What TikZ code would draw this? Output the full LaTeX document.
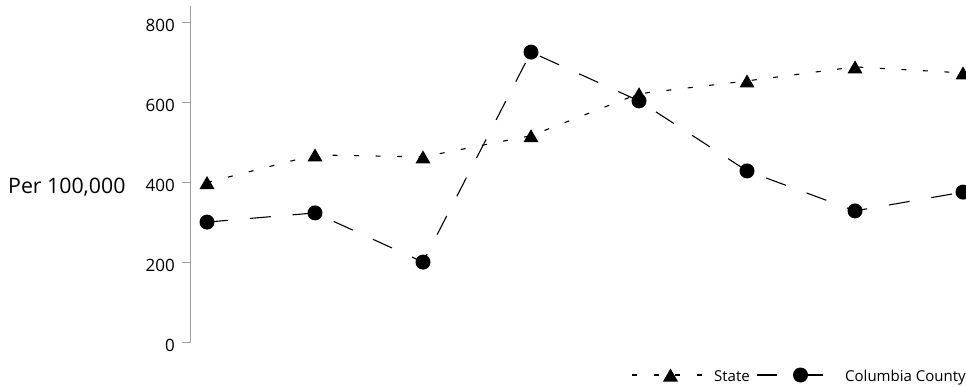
\documentclass[tikz,border=0pt]{standalone}
\usepackage{fontspec}
\setmainfont{Open Sans}
\definecolor{axisgray}{HTML}{A0A0A0}
\tikzset{
  ticklab/.style={anchor=base east, inner sep=0pt, font=\fontsize{17pt}{19pt}\selectfont},
  legtext/.style={anchor=base west, inner sep=0pt, font=\fontsize{15pt}{17pt}\selectfont},
  stateline/.style={line width=1.1pt, dash pattern=on 5pt off 16.5pt},
  countyline/.style={line width=1.1pt, dash pattern=on 21pt off 22pt},
  dot/.style={circle, fill=black, inner sep=0pt, minimum size=15pt},
  tri/.pic={\fill (-7.5pt,-6.5pt) -- (7.5pt,-6.5pt) -- (0pt,6.5pt) -- cycle;}
}
\begin{document}
\begin{tikzpicture}[x=1pt,y=1pt]
\useasboundingbox (0,0) rectangle (966,386);
\clip (0,0) rectangle (966,386);
\begin{scope}[shift={(0,43.5)}, y=0.4pt]
  % axis
  \coordinate (ax0) at (190.5,0);
  \coordinate (axtop) at (190.5,841);
  \draw[axisgray, line width=1.2pt] (axtop) -- (ax0);
  \foreach \v in {0,200,400,600,800}{
    \coordinate (t\v) at (190.5,\v);
    \coordinate (tl\v) at (182,\v);
    \draw[axisgray, line width=1.2pt] (t\v) -- (tl\v);
    \node[ticklab] (lab\v) at ([shift={(-7pt,-9pt)}]tl\v) {\v};
  }
  % data
  \foreach \i/\x/\s/\c in {1/207/400/301, 2/315/469/324, 3/423/464/201, 4/531/517/726,
                            5/639/622/604, 6/747/654/429, 7/855/689/329, 8/963/674/376}{
    \coordinate (s\i) at (\x,\s);
    \coordinate (c\i) at (\x,\c);
  }
  \draw[stateline] (s1) -- (s2) -- (s3) -- (s4) -- (s5) -- (s6) -- (s7) -- (s8);
  \draw[countyline] (c1) -- (c2) -- (c3) -- (c4) -- (c5) -- (c6) -- (c7) -- (c8);
  \foreach \i in {1,...,8}{
    \node[dot] (cd\i) at (c\i) {};
    \pic at (s\i) {tri};
  }
\end{scope}
% y label
\node[anchor=base west, inner sep=0pt, font=\fontsize{21.3pt}{24pt}\selectfont] (ylab) at (8,193) {Per 100,000};
% legend
\coordinate (ls1) at (632,11);
\coordinate (ls2) at (702,11);
\coordinate (lsm) at (670.5,11);
\draw[stateline] (ls1) -- (ls2);
\pic at (lsm) {tri};
\node[legtext] (lst) at (714,5) {State};
\coordinate (lc1) at (757,11);
\coordinate (lc2) at (824,11);
\draw[line width=1.1pt, dash pattern=on 20pt off 16pt on 30pt off 10pt] (lc1) -- (lc2);
\node[dot] (lcm) at (800.5,11) {};
\node[legtext] (lct) at (845,5) {Columbia County};
\end{tikzpicture}
\end{document}
